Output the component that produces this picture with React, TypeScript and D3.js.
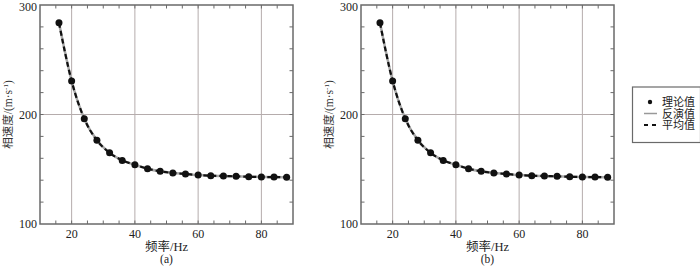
import React from "react";
import * as d3 from "d3";

const freqs = [16, 20, 24, 28, 32, 36, 40, 44, 48, 52, 56, 60, 64, 68, 72, 76, 80, 84, 88];
const theoryA = [283.8, 230.6, 196.2, 176.4, 165.1, 158.1, 154.1, 150.5, 148.1, 146.6, 145.7, 144.7, 144.1, 143.8, 143.5, 143.2, 142.9, 142.9, 142.6];
const invertA = [283.8, 230.6, 196.2, 176.4, 165.1, 158.1, 154.1, 150.5, 148.1, 146.6, 145.7, 144.7, 144.1, 143.8, 143.5, 143.2, 142.9, 142.9, 142.6];
const meanA = [283.8, 230.6, 196.2, 176.4, 165.1, 158.1, 154.1, 150.5, 148.1, 146.6, 145.7, 144.7, 144.1, 143.8, 143.5, 143.2, 142.9, 142.9, 142.6];
const theoryB = [283.8, 230.6, 196.2, 176.4, 165.1, 158.1, 154.1, 150.5, 148.1, 146.6, 145.7, 144.7, 144.1, 143.8, 143.5, 143.2, 142.9, 142.9, 142.6];
const invertB = [283.8, 230.6, 196.2, 176.4, 165.1, 158.1, 154.1, 150.5, 148.1, 146.6, 145.7, 144.7, 144.1, 143.8, 143.5, 143.2, 142.9, 142.9, 142.6];
const meanB = [283.8, 230.6, 196.2, 176.4, 165.1, 158.1, 154.1, 150.5, 148.1, 146.6, 145.7, 144.7, 144.1, 143.8, 143.5, 143.2, 142.9, 142.9, 142.6];

const xTicks = [20, 40, 60, 80];
const yTicks = [100, 200, 300];
const xMinor = [15, 25, 30, 35, 45, 50, 55, 65, 70, 75, 85];
const yMinor = [120, 140, 160, 180, 220, 240, 260, 280];
const legendLabels = ["理论值", "反演值", "平均值"];
const panelLabels = ["(a)", "(b)"];
const xLabel = "频率/Hz";

const SERIF = "'Liberation Serif', 'Noto Sans CJK SC', serif";
const GRID = "#b5acac";
const FRAME = "#6a6a6a";

type PanelProps = { left: number; theory: number[]; invert: number[]; mean: number[]; label: string };

function Panel({ left, theory, invert, mean, label }: PanelProps) {
  const top = 5, bottom = 224, width = 253;
  const x = d3.scaleLinear().domain([10, 90]).range([left, left + width]);
  const y = d3.scaleLinear().domain([100, 300]).range([bottom, top]);
  const line = (vals: number[]) =>
    d3.line<number>().x((_, i) => x(freqs[i])).y((v) => y(v)).curve(d3.curveMonotoneX)(vals) || "";
  const tl = 3.5;
  return (
    <g>
      {xTicks.map((t) => (
        <line key={"gx" + t} x1={x(t)} x2={x(t)} y1={top} y2={bottom} stroke={GRID} strokeWidth={1} />
      ))}
      {[200].map((t) => (
        <line key={"gy" + t} x1={left} x2={left + width} y1={y(t)} y2={y(t)} stroke={GRID} strokeWidth={1} />
      ))}
      {[...xMinor, ...xTicks].map((t) => (
        <g key={"tx" + t}>
          <line x1={x(t)} x2={x(t)} y1={bottom} y2={bottom - tl} stroke={FRAME} />
          <line x1={x(t)} x2={x(t)} y1={top} y2={top + tl} stroke={FRAME} />
        </g>
      ))}
      {[...yMinor, 200].map((t) => (
        <g key={"ty" + t}>
          <line x1={left} x2={left + tl} y1={y(t)} y2={y(t)} stroke={FRAME} />
          <line x1={left + width} x2={left + width - tl} y1={y(t)} y2={y(t)} stroke={FRAME} />
        </g>
      ))}
      <rect x={left} y={top} width={width} height={bottom - top} fill="none" stroke={FRAME} strokeWidth={1.5} />
      <path d={line(invert)} fill="none" stroke="#a8a8a8" strokeWidth={2.5} />
      <path d={line(mean)} fill="none" stroke="#111" strokeWidth={2.2} strokeDasharray="5,3" />
      {theory.map((v, i) => (
        <circle key={"c" + i} cx={x(freqs[i])} cy={y(v)} r={3.5} fill="#111" />
      ))}
      {xTicks.map((t) => (
        <text key={"lx" + t} x={x(t)} y={238} textAnchor="middle" fontFamily={SERIF} fontSize={12} fill="#222">
          {t}
        </text>
      ))}
      {yTicks.map((t) => (
        <text key={"ly" + t} x={left - 3} y={Math.max(y(t) + 4, 10.5)} textAnchor="end" fontFamily={SERIF} fontSize={12} fill="#222">
          {t}
        </text>
      ))}
      <text x={left + width / 2} y={251} textAnchor="middle" fontFamily={SERIF} fontSize={12.5} fill="#222">
        {xLabel}
      </text>
      <text x={left + width / 2} y={263} textAnchor="middle" fontFamily={SERIF} fontSize={11.5} fill="#222">
        {label}
      </text>
      <text
        transform={`translate(${left - 28},${(top + bottom) / 2}) rotate(-90)`}
        textAnchor="middle"
        fontFamily={SERIF}
        fontSize={11.5}
        fill="#333"
      >
        相速度/(m·s<tspan dy={-4} fontSize={7}>-1</tspan>
        <tspan dy={4}>)</tspan>
      </text>
    </g>
  );
}

export default function App() {
  return (
    <svg width={700} height={266} style={{ position: "absolute", left: 0, top: 0, background: "#fff" }}>
      <rect x={0} y={0} width={700} height={266} fill="#fff" />
      <Panel left={40} theory={theoryA} invert={invertA} mean={meanA} label={panelLabels[0]} />
      <Panel left={361} theory={theoryB} invert={invertB} mean={meanB} label={panelLabels[1]} />
      <g>
        <rect x={632.5} y={87} width={68} height={55.5} fill="#fff" stroke={FRAME} strokeWidth={1.2} />
        <circle cx={650} cy={102} r={2.2} fill="#111" />
        <line x1={644} x2={657} y1={113.5} y2={113.5} stroke="#999" strokeWidth={1.5} />
        <line x1={644} x2={657} y1={125} y2={125} stroke="#111" strokeWidth={2} strokeDasharray="4,4" />
        {legendLabels.map((l, i) => (
          <text key={l} x={662} y={106 + i * 11.7} fontFamily={SERIF} fontSize={11} fill="#222">
            {l}
          </text>
        ))}
      </g>
    </svg>
  );
}
